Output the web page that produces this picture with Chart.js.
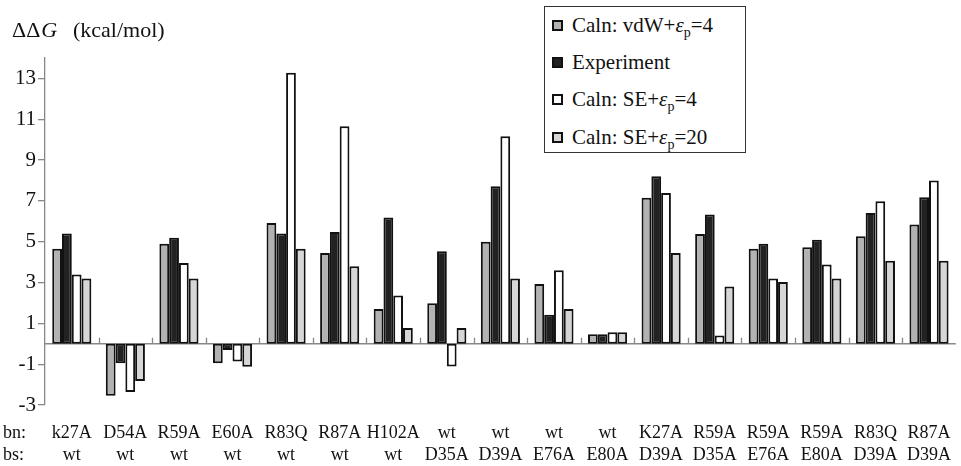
<!DOCTYPE html>
<html>
<head>
<meta charset="utf-8">
<script src="https://cdn.jsdelivr.net/npm/chart.js@4.4.0/dist/chart.umd.min.js"></script>
<style>
  html, body { margin: 0; padding: 0; background: #fff; overflow: hidden; }
  #wrap { position: relative; width: 968px; height: 466px; }
  #legend {
    position: absolute; left: 544px; top: 6px; width: 202px; height: 147px;
    border: 1px solid #333; box-sizing: border-box; background: #fff;
    font-family: "Liberation Serif", "Times New Roman", serif; font-size: 21px; color: #111;
  }
  #legend .row { position: absolute; left: 7px; height: 24px; display: flex; align-items: center; white-space: nowrap; }
  #legend .sw { width: 11px; height: 11px; box-sizing: border-box; border: 2px solid #111; margin-right: 9px; }
  #legend sub { font-size: 14px; vertical-align: -5px; line-height: 0; }
</style>
</head>
<body>
<div id="wrap">
  <canvas id="chart" width="968" height="466"></canvas>
  <div id="legend"></div>
</div>
<script>
// categories: bn (binding-site mutant) and bs (partner mutant)
const bnLabels = ['k27A', 'D54A', 'R59A', 'E60A', 'R83Q', 'R87A', 'H102A', 'wt', 'wt', 'wt', 'wt',
                  'K27A', 'R59A', 'R59A', 'R59A', 'R83Q', 'R87A'];
const bsLabels = ['wt', 'wt', 'wt', 'wt', 'wt', 'wt', 'wt', 'D35A', 'D39A', 'E76A', 'E80A',
                  'D39A', 'D35A', 'E76A', 'E80A', 'D39A', 'D39A'];

const vdwEp4 = [4.65, -2.55, 4.9, -0.95, 5.92, 4.45, 1.7, 1.99, 5.0, 2.93, 0.47, 7.15, 5.38, 4.65, 4.73, 5.27, 5.84];
const experiment = [5.4, -0.95, 5.19, -0.3, 5.4, 5.48, 6.18, 4.53, 7.72, 1.42, 0.47, 8.21, 6.33, 4.9, 5.1, 6.41, 7.18];
const seEp4 = [3.39, -2.36, 3.96, -0.87, 13.28, 10.66, 2.36, -1.11, 10.17, 3.6, 0.57, 7.39, 0.41, 3.2, 3.88, 6.98, 8.0];
const seEp20 = [3.2, -1.82, 3.2, -1.13, 4.65, 3.8, 0.77, 0.77, 3.2, 1.7, 0.57, 4.45, 2.81, 3.03, 3.2, 4.07, 4.07];

const seriesNames = ['Caln: vdW+εp=4', 'Experiment', 'Caln: SE+εp=4', 'Caln: SE+εp=20'];
const seriesColors = ['#b2b2b2', '#222222', '#ffffff', '#d6d6d6'];

const yTicks = [-3, -1, 1, 3, 5, 7, 9, 11, 13];

const FONT = '"Liberation Serif", "Times New Roman", serif';

const seriesData = [vdwEp4, experiment, seEp4, seEp20];

// zero line, small boundary marks, axis title and bn:/bs: prefixes
const decorations = {
  id: 'decorations',
  beforeDatasetsDraw(chart) {
    const { ctx, scales: { x, y } } = chart;
    const zeroY = y.getPixelForValue(0);
    ctx.save();
    ctx.strokeStyle = '#888';
    ctx.lineWidth = 1.3;
    ctx.beginPath();
    ctx.moveTo(chart.chartArea.left, zeroY);
    ctx.lineTo(chart.chartArea.right, zeroY);
    for (let i = 1; i < bnLabels.length; i++) {
      const bx = Math.round((x.getPixelForValue(i - 1) + x.getPixelForValue(i)) / 2) + 0.5;
      ctx.moveTo(bx, zeroY);
      ctx.lineTo(bx, zeroY - 6);
    }
    ctx.stroke();
    ctx.restore();
  },
  afterDraw(chart) {
    const { ctx, scales: { x } } = chart;
    ctx.save();
    ctx.fillStyle = '#111';
    ctx.textBaseline = 'alphabetic';
    ctx.font = '22px ' + FONT;
    ctx.fillText('ΔΔ', 12, 37);
    const w = ctx.measureText('ΔΔ').width;
    ctx.font = 'italic 22px ' + FONT;
    ctx.fillText('G', 13 + w, 37);
    ctx.font = '22px ' + FONT;
    ctx.fillText('(kcal/mol)', 73, 37);

    ctx.font = '18px ' + FONT;
    ctx.textBaseline = 'middle';
    ctx.fillText('bn:', 3, x.top + 17 + 11);
    ctx.fillText('bs:', 3, x.top + 17 + 33);
    ctx.restore();
  }
};

function build() {
  const chart = new Chart(document.getElementById('chart'), {
    type: 'bar',
    data: {
      labels: bnLabels.map((bn, i) => [bn, bsLabels[i]]),
      datasets: seriesNames.map((name, i) => ({
        label: name,
        data: seriesData[i],
        backgroundColor: seriesColors[i],
        borderColor: '#111',
        borderWidth: 2,
        borderSkipped: false,
        categoryPercentage: 0.73,
        barPercentage: 1.0
      }))
    },
    options: {
      responsive: false,
      animation: false,
      devicePixelRatio: 1,
      layout: { padding: { top: 58, left: 0, right: 0, bottom: 0 } },
      plugins: {
        legend: { display: false },
        tooltip: { enabled: false }
      },
      scales: {
        x: {
          grid: { display: false, drawTicks: false },
          border: { display: false },
          ticks: {
            autoSkip: false, maxRotation: 0, padding: 17, color: '#111',
            font: { family: FONT, size: 18, lineHeight: 1.22 }
          },
          afterFit(scale) { scale.height = 61; }
        },
        y: {
          min: -3,
          max: 14,
          afterBuildTicks(scale) { scale.ticks = yTicks.map(v => ({ value: v })); },
          afterFit(scale) { scale.width = 45; },
          grid: { drawOnChartArea: false, drawTicks: true, tickLength: 7, color: '#888', lineWidth: 1.3 },
          border: { display: true, color: '#888', width: 1.3 },
          ticks: { padding: 2, color: '#111', font: { family: FONT, size: 21 } }
        }
      }
    },
    plugins: [decorations]
  });

  // html legend so the epsilon subscript can be set properly
  const legendEl = document.getElementById('legend');
  const rowTops = [6, 43, 80, 118];
  chart.data.datasets.forEach((ds, i) => {
    const row = document.createElement('div');
    row.className = 'row';
    row.style.top = rowTops[i] + 'px';
    const sw = document.createElement('span');
    sw.className = 'sw';
    sw.style.background = ds.backgroundColor;
    const txt = document.createElement('span');
    txt.innerHTML = ds.label.replace('εp', '<i>ε</i><sub>p</sub>');
    row.appendChild(sw);
    row.appendChild(txt);
    legendEl.appendChild(row);
  });
}

Promise.all([
  document.fonts.load('20px "Liberation Serif"'),
  document.fonts.load('italic 20px "Liberation Serif"')
]).then(build, build);
</script>
</body>
</html>
